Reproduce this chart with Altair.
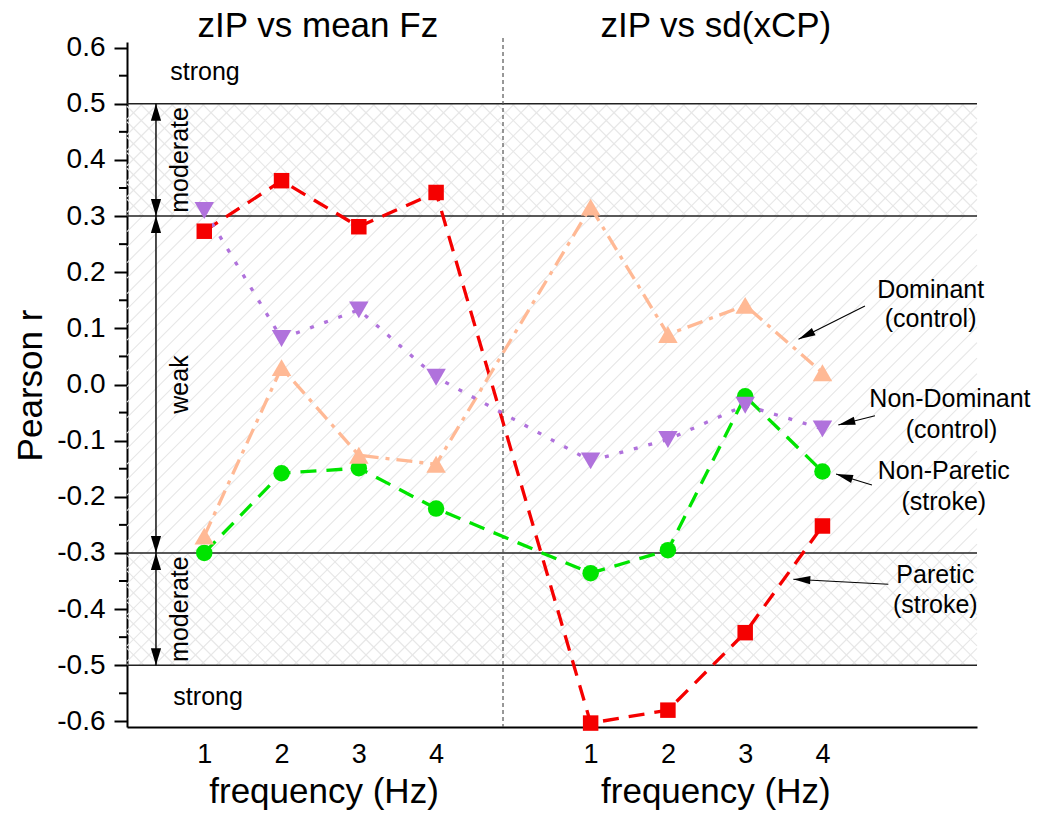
import altair as alt
import pandas as pd
import numpy as np

# ---------------- data ----------------
freq_pos = [1, 2, 3, 4, 6, 7, 8, 9]          # left block = zIP vs mean Fz, right block = zIP vs sd(xCP)
tick_values = [1, 2, 3, 4, 6, 7, 8, 9]
paretic = [0.273, 0.363, 0.281, 0.342, -0.603, -0.580, -0.442, -0.252]
non_paretic = [-0.300, -0.158, -0.149, -0.221, -0.336, -0.295, -0.021, -0.155]
dominant = [-0.270, 0.030, -0.126, -0.142, 0.316, 0.089, 0.141, 0.021]
non_dominant = [0.310, 0.082, 0.133, 0.013, -0.136, -0.098, -0.037, -0.079]

y_ticks = [-0.6, -0.5, -0.4, -0.3, -0.2, -0.1, 0.0, 0.1, 0.2, 0.3, 0.4, 0.5, 0.6]
minor_ticks = [-0.55, -0.45, -0.35, -0.25, -0.15, -0.05, 0.05, 0.15, 0.25, 0.35, 0.45, 0.55]
band_lines = [-0.5, -0.3, 0.3, 0.5]

panel_titles = ["zIP vs mean Fz", "zIP vs sd(xCP)"]
panel_title_x = [2.47, 7.62]
xtitle_text = ["frequency (Hz)", "frequency (Hz)"]
xtitle_x = [2.55, 7.62]

band_text = ["moderate", "weak", "moderate"]
band_text_y = [0.4, 0.0, -0.4]
strong_text_y = [0.542, -0.571]

# annotation texts (line by line), anchor x/y in data units
ann_text = ["Dominant", "(control)", "Non-Dominant", "(control)",
            "Non-Paretic", "(stroke)", "Paretic", "(stroke)"]
ann_x = [10.40, 10.40, 10.65, 10.67, 10.57, 10.57, 10.46, 10.46]
ann_y = [0.1535, 0.1024, -0.0395, -0.0953, -0.1683, -0.2235, -0.354, -0.407]
arrow_tail_x = [9.55, 9.68, 9.64, 9.853]
arrow_tail_y = [0.140, -0.0555, -0.179, -0.3558]
arrow_tip_x = [8.69, 9.205, 9.176, 8.623]
arrow_tip_y = [0.0805, -0.0721, -0.1594, -0.3469]

# ---------------- layout ----------------
W, H = 850, 685
XD = [0, 11]
YD = [-0.61, 0.61]
FONT = "Liberation Sans"
RED, GREEN, PEACH, PURPLE = "#f50000", "#00e400", "#ffb995", "#b072dc"

xs = alt.Scale(domain=XD, nice=False, zero=False)
ys = alt.Scale(domain=YD, nice=False, zero=False)

xaxis = alt.Axis(values=tick_values,
                 labelExpr="datum.value > 5 ? datum.value - 5 : datum.value",
                 ticks=False, grid=False, title=None,
                 domainColor="black", domainWidth=2,
                 labelFont=FONT, labelFontSize=27, labelColor="black",
                 labelPadding=14, labelOverlap=False)
yaxis = alt.Axis(values=y_ticks,
                 labelExpr="datum.value < -0.001 ? '-' + format(-datum.value, '.1f') : format(abs(datum.value), '.1f')",
                 grid=False, tickSize=13, tickWidth=2, tickColor="black",
                 domainColor="black", domainWidth=2,
                 labelFont=FONT, labelFontSize=28, labelColor="black",
                 labelPadding=9, labelOverlap=False,
                 title="Pearson r", titleFont=FONT, titleFontSize=35,
                 titleFontWeight="normal", titleColor="black",
                 titleAngle=270, titleX=-86, titleY=343,
                 titleAlign="center", titleBaseline="alphabetic")

X = lambda f: alt.X(f, type="quantitative", scale=xs, axis=xaxis)
Y = lambda f: alt.Y(f, type="quantitative", scale=ys, axis=yaxis)


def px_to_data(px, py):
    return px / W * (XD[1] - XD[0]) + XD[0], YD[1] - py / H * (YD[1] - YD[0])


def hatch(v_top, v_bot, slope, spacing=15.5):
    ytop = (YD[1] - v_top) / (YD[1] - YD[0]) * H
    ybot = (YD[1] - v_bot) / (YD[1] - YD[0]) * H
    rows = []
    if slope == "/":
        c = ytop
        while c < W + ybot:
            p0 = max(0.0, c - ybot)
            p1 = min(W, c - ytop)
            if p1 > p0:
                a = px_to_data(p0, c - p0)
                b = px_to_data(p1, c - p1)
                rows.append({"x0": a[0], "y0": a[1], "x1": b[0], "y1": b[1]})
            c += spacing
    else:
        c = ytop - W
        while c < ybot:
            p0 = max(0.0, ytop - c)
            p1 = min(W, ybot - c)
            if p1 > p0:
                a = px_to_data(p0, p0 + c)
                b = px_to_data(p1, p1 + c)
                rows.append({"x0": a[0], "y0": a[1], "x1": b[0], "y1": b[1]})
            c += spacing
    return rows


hatch_rows = (hatch(0.5, 0.3, "/") + hatch(0.5, 0.3, "\\") +
              hatch(0.3, -0.3, "/") +
              hatch(-0.3, -0.5, "/") + hatch(-0.3, -0.5, "\\"))
hatch_df = pd.DataFrame(hatch_rows)

layers = []

# hatching
layers.append(alt.Chart(hatch_df).mark_rule(color="#e7e7e7", strokeWidth=1.1).encode(
    x=X("x0"), y=Y("y0"), x2="x1", y2="y1"))

# band boundary lines
layers.append(alt.Chart(pd.DataFrame({"v": band_lines, "a": [XD[0]] * 4, "b": [XD[1]] * 4}))
              .mark_rule(color="#222222", strokeWidth=1.6)
              .encode(x=X("a"), x2="b", y=Y("v")))

# minor y ticks
layers.append(alt.Chart(pd.DataFrame({"v": minor_ticks})).mark_rule(color="black", strokeWidth=2)
              .encode(y=Y("v"), x=alt.value(-8), x2=alt.value(0)))

# dashed separator
layers.append(alt.Chart(pd.DataFrame({"x": [4.866], "a": [0.617], "b": [YD[0]]}))
              .mark_rule(color="#555555", strokeWidth=1.2, strokeDash=[4, 3])
              .encode(x=X("x"), y=Y("a"), y2="b"))

# double-headed arrows on the left
arr_x = 0.375
seg_df = pd.DataFrame({"x": [arr_x] * 3, "a": [0.5, 0.3, -0.3], "b": [0.3, -0.3, -0.5]})
layers.append(alt.Chart(seg_df).mark_rule(color="black", strokeWidth=1.4)
              .encode(x=X("x"), y=Y("a"), y2="b"))
head_df = pd.DataFrame({"x": [arr_x] * 6,
                        "v": [0.5, 0.3, 0.3, -0.3, -0.3, -0.5],
                        "ang": [0, 180, 0, 180, 0, 180]})
layers.append(alt.Chart(head_df).mark_point(shape="M0,0L-0.3,1L0.3,1Z", size=1156, filled=True,
                                            color="black", opacity=1, strokeWidth=0)
              .encode(x=X("x"), y=Y("v"), angle=alt.Angle("ang:Q", scale=None)))

# band labels
layers.append(alt.Chart(pd.DataFrame({"t": band_text, "v": band_text_y, "x": [0.789] * 3}))
              .mark_text(font=FONT, fontSize=25, angle=270, align="center", baseline="alphabetic", color="black")
              .encode(x=X("x"), y=Y("v"), text="t"))
layers.append(alt.Chart(pd.DataFrame({"t": ["strong", "strong"], "v": strong_text_y, "x": [0.56, 0.60]}))
              .mark_text(font=FONT, fontSize=25, align="left", baseline="alphabetic", color="black")
              .encode(x=X("x"), y=Y("v"), text="t"))

# panel titles and x titles
layers.append(alt.Chart(pd.DataFrame({"t": panel_titles, "x": panel_title_x, "v": [0.619, 0.619]}))
              .mark_text(font=FONT, fontSize=35, align="center", baseline="alphabetic", color="black")
              .encode(x=X("x"), y=Y("v"), text="t"))
layers.append(alt.Chart(pd.DataFrame({"t": xtitle_text, "x": xtitle_x, "v": [-0.745, -0.745]}))
              .mark_text(font=FONT, fontSize=35, align="center", baseline="alphabetic", color="black")
              .encode(x=X("x"), y=Y("v"), text="t"))

# series
series = [
    ("Paretic", paretic, RED, [16, 10], "square", 240),
    ("Non-Paretic", non_paretic, GREEN, [16, 10], "circle", 272),
    ("Dominant", dominant, PEACH, [16, 7, 4, 7], "triangle-up", 380),
    ("Non-Dominant", non_dominant, PURPLE, [4, 11], "triangle-down", 380),
]
for name, vals, col, dash, shape, size in series:
    df = pd.DataFrame({"x": freq_pos, "r": vals})
    layers.append(alt.Chart(df).mark_line(color=col, strokeWidth=3.3, strokeDash=dash)
                  .encode(x=X("x"), y=Y("r")))
for name, vals, col, dash, shape, size in series:
    df = pd.DataFrame({"x": freq_pos, "r": vals})
    layers.append(alt.Chart(df).mark_point(shape=shape, size=size, filled=True, color=col,
                                           opacity=1, strokeWidth=0)
                  .encode(x=X("x"), y=Y("r")))

# annotations
layers.append(alt.Chart(pd.DataFrame({"t": ann_text, "x": ann_x, "v": ann_y}))
              .mark_text(font=FONT, fontSize=25, align="center", baseline="alphabetic", color="black")
              .encode(x=X("x"), y=Y("v"), text="t"))
ax_scale = W / (XD[1] - XD[0])
ay_scale = H / (YD[1] - YD[0])
angs = []
for xt0, yt0, xt1, yt1 in zip(arrow_tail_x, arrow_tail_y, arrow_tip_x, arrow_tip_y):
    dxp = (xt1 - xt0) * ax_scale
    dyp = -(yt1 - yt0) * ay_scale
    angs.append(float(np.degrees(np.arctan2(dxp, -dyp)) % 360))
arrow_df = pd.DataFrame({"x0": arrow_tail_x, "y0": arrow_tail_y,
                         "x1": arrow_tip_x, "y1": arrow_tip_y, "ang": angs})
layers.append(alt.Chart(arrow_df).mark_rule(color="black", strokeWidth=1.1)
              .encode(x=X("x0"), y=Y("y0"), x2="x1", y2="y1"))
layers.append(alt.Chart(arrow_df).mark_point(shape="M0,0L-0.24,1L0.24,1Z", size=1156, filled=True,
                                             color="black", opacity=1, strokeWidth=0)
              .encode(x=X("x1"), y=Y("y1"), angle=alt.Angle("ang:Q", scale=None)))

chart = alt.layer(*layers).properties(
    width=W, height=H,
    padding={"left": 127, "top": 42, "right": 62, "bottom": 87},
    autosize=alt.AutoSizeParams(type="none"),
    background="white",
).configure_view(stroke=None)

chart.save("out.html", embed_options={"renderer": "svg", "actions": False})
